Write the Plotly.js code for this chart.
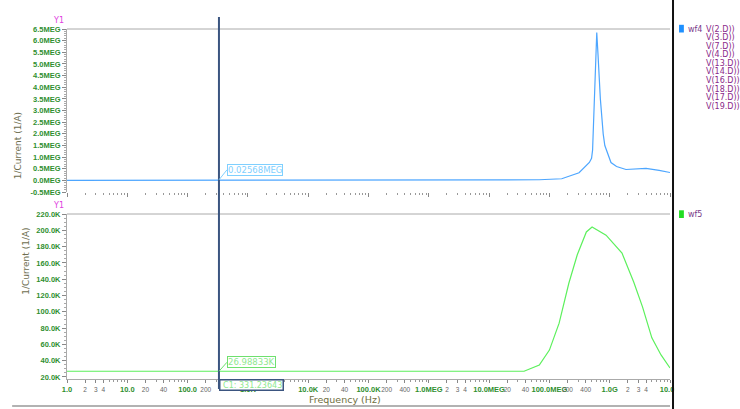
<!DOCTYPE html>
<html><head><meta charset="utf-8">
<script src="https://cdn.plot.ly/plotly-3.0.1.min.js"></script>
<style>html,body{margin:0;padding:0;background:#fff}#c{width:740px;height:409px}</style>
</head><body><div id="c"></div>
<script>
// wf4 (top) : 1/Current in MEG
const freqTop = [1, 1e3, 1e6, 1e7, 3e7, 6.8e7, 1.6e8, 3.1e8, 4.6e8, 5.0e8, 5.2e8, 5.5e8, 5.8e8, 6.1e8, 6.4e8, 7.0e8, 7.8e8, 8.3e8, 1.05e9, 1.3e9, 1.86e9, 4.0e9, 6.6e9, 1e10];
const valTop  = [0, 0, 0, 0.002, 0.01, 0.03, 0.073, 0.33, 0.77, 0.95, 1.3, 3.0, 5.3, 6.35, 5.4, 3.5, 2.0, 1.5, 0.77, 0.6, 0.47, 0.52, 0.43, 0.34];
// wf5 (bottom) : 1/Current in K
const freqBot = [1, 1e3, 1e6, 1e7, 2.8e7, 3.8e7, 6.8e7, 1e8, 1.45e8, 2.1e8, 2.9e8, 4.1e8, 5.1e8, 8.7e8, 1.6e9, 2.5e9, 3.5e9, 5e9, 7.1e9, 1e10];
const valBot  = [26.99, 26.99, 26.99, 26.99, 26.99, 27, 34.7, 53, 86, 135, 170, 198, 204, 194, 172, 136.5, 106, 68, 47, 31];

const cursorFreq = 331.23643;
const markerTop = 0.02568;   // MEG
const markerBot = 26.98833;  // K

const yTopTicks = [-0.5,0,0.5,1,1.5,2,2.5,3,3.5,4,4.5,5,5.5,6,6.5];
const yTopText  = ["-0.5MEG","0.0MEG","0.5MEG","1.0MEG","1.5MEG","2.0MEG","2.5MEG","3.0MEG","3.5MEG","4.0MEG","4.5MEG","5.0MEG","5.5MEG","6.0MEG","6.5MEG"];
const yBotTicks = [20,40,60,80,100,120,140,160,180,200,220];
const yBotText  = ["20.0K","40.0K","60.0K","80.0K","100.0K","120.0K","140.0K","160.0K","180.0K","200.0K","220.0K"];

const xMajorVals = [1,10,100,1e3,1e4,1e5,1e6,1e7,1e8,1e9,1e10];
const xMajorText = ["1.0","10.0","100.0","1.0K","10.0K","100.0K","1.0MEG","10.0MEG","100.0MEG","1.0G","10.0G"];
const xMinorVals = [2,3,4,20,40,200,2e4,4e4,2e5,4e5,2e6,3e6,4e6,2e7,4e7,2e8,4e8,2e9,3e9,4e9];
const xMinorText = ["2","3","4","20","40","200","20","40","200","400","2","3","4","20","40","200","400","2","3","4"];

const legendNames = ["V(2.D))","V(3.D))","V(7.D))","V(4.D))","V(13.D))","V(14.D))","V(16.D))","V(18.D))","V(17.D))","V(19.D))"];

const green = '#2f8f2f';
const tickFont = {family:'Liberation Sans', size:7.5, color:green, weight:'bold'};
const tv = xMajorVals.concat(xMinorVals);
const tt = xMajorText.concat(xMinorText.map(t=>'<span style="color:#666;font-weight:normal;font-size:6.5px">'+t+'</span>'));

const traces = [
 {x:freqTop, y:valTop, xaxis:'x', yaxis:'y', mode:'lines', line:{color:'#4da6ff', width:1.2}, hoverinfo:'skip'},
 {x:freqBot, y:valBot, xaxis:'x2', yaxis:'y2', mode:'lines', line:{color:'#5cf05c', width:1.2}, hoverinfo:'skip'}
];

const xcommon = {type:'log', range:[0,10], showgrid:false, zeroline:false, ticks:'outside', ticklen:4, tickcolor:'#888', tickwidth:1,
  minor:{dtick:'D1', ticks:'outside', ticklen:2, tickcolor:'#999', showgrid:false}};

const ann = [];
const titleFont = {family:'DejaVu Sans', size:9, color:'#6e6e50'};
ann.push({xref:'paper', yref:'paper', x:-0.093, y:0.769, text:'1/Current (1/A)', textangle:-90, showarrow:false, font:titleFont});
ann.push({xref:'paper', yref:'paper', x:-0.081, y:0.234, text:'1/Current (1/A)', textangle:-90, showarrow:false, font:titleFont});
ann.push({xref:'paper', yref:'paper', x:-0.002, y:1.005, text:'Y1', showarrow:false, xanchor:'right', yanchor:'bottom', font:{family:'DejaVu Sans', size:8, color:'#e040e0'}});
ann.push({xref:'paper', yref:'paper', x:-0.002, y:0.476, text:'Y1', showarrow:false, xanchor:'right', yanchor:'bottom', font:{family:'DejaVu Sans', size:8, color:'#e040e0'}});
ann.push({xref:'paper', yref:'paper', x:0.461, y:-0.058, text:'Frequency (Hz)', showarrow:false, yanchor:'middle', font:{family:'DejaVu Sans', size:9.5, color:'#6e6e40'}});
ann.push({xref:'x', yref:'y', x:Math.log10(cursorFreq), y:markerTop, text:'0.02568MEG', showarrow:true, arrowhead:0, arrowwidth:1, arrowcolor:'#7fd0ff', ax:8, ay:-10, xanchor:'left', yanchor:'middle', bordercolor:'#7fd0ff', borderwidth:1, borderpad:0, bgcolor:'#fff', font:{family:'DejaVu Sans', size:8.5, color:'#7fd0ff'}});
ann.push({xref:'x2', yref:'y2', x:Math.log10(cursorFreq), y:markerBot, text:'26.98833K', showarrow:true, arrowhead:0, arrowwidth:1, arrowcolor:'#6ee06e', ax:8, ay:-9, xanchor:'left', yanchor:'middle', bordercolor:'#6ee06e', borderwidth:1, borderpad:0, bgcolor:'#fff', font:{family:'DejaVu Sans', size:8.5, color:'#8fe88f'}});
ann.push({xref:'x2', yref:'paper', x:Math.log10(cursorFreq), y:-0.018, text:' C1: 331.23643', showarrow:false, xanchor:'left', yanchor:'middle', bordercolor:'#3b5580', borderwidth:1.5, borderpad:0, bgcolor:'#fff', font:{family:'DejaVu Sans', size:8, color:'#8fe88f'}});
ann.push({xref:'paper', yref:'paper', x:1.0265, y:1.0, text:'wf4', showarrow:false, xanchor:'left', yanchor:'middle', font:{family:'DejaVu Sans', size:8, color:'#7a3a8a'}});
ann.push({xref:'paper', yref:'paper', x:1.0265, y:0.471, text:'wf5', showarrow:false, xanchor:'left', yanchor:'middle', font:{family:'DejaVu Sans', size:8, color:'#7a3a8a'}});
legendNames.forEach((n,i)=>ann.push({xref:'paper', yref:'paper', x:1.056, y:1.0 - i*0.0245, text:n, showarrow:false, xanchor:'left', yanchor:'middle', font:{family:'DejaVu Sans', size:8, color:'#8a2a8a'}}));

const shapes = [
 {type:'line', xref:'x domain', yref:'y domain', x0:0, x1:1, y0:1, y1:1, line:{color:'#aaa', width:1}},
 {type:'line', xref:'x2 domain', yref:'y2 domain', x0:0, x1:1, y0:1, y1:1, line:{color:'#aaa', width:1}},
 {type:'line', xref:'x2', yref:'paper', x0:cursorFreq, x1:cursorFreq, y0:-0.0286, y1:1.034, line:{color:'#3b5580', width:2}},
 {type:'rect', xref:'paper', yref:'paper', x0:1.007, x1:1.2, y0:-0.09, y1:0.05, fillcolor:'#fff', line:{width:0}, layer:'above'},
 {type:'line', xref:'paper', yref:'paper', x0:1.005, x1:1.005, y0:-0.09, y1:1.09, line:{color:'#111', width:2}},
 {type:'line', xref:'paper', yref:'paper', x0:-0.091, x1:1.0, y0:-0.077, y1:-0.077, line:{color:'#999', width:1.5}},
 {type:'rect', xref:'paper', yref:'paper', x0:1.015, x1:1.023, y0:0.99, y1:1.012, fillcolor:'#1e90ff', line:{width:0}},
 {type:'rect', xref:'paper', yref:'paper', x0:1.015, x1:1.023, y0:0.46, y1:0.482, fillcolor:'#22dd22', line:{width:0}}
];

const layout = {
 width:740, height:409, margin:{l:67, r:70, t:29, b:30}, paper_bgcolor:'#fff', plot_bgcolor:'#fff', showlegend:false,
 xaxis: Object.assign({}, xcommon, {domain:[0,1], anchor:'y', showticklabels:false, showline:false, tickvals:xMajorVals}),
 yaxis: {domain:[0.534,1], anchor:'x', range:[-0.5,6.5], tickvals:yTopTicks, ticktext:yTopText, tickfont:tickFont, showgrid:false, zeroline:false,
   showline:true, linecolor:'#aaa', ticks:'outside', ticklen:4, tickcolor:'#888', minor:{dtick:0.1, ticks:'outside', ticklen:2, tickcolor:'#aaa'}},
 xaxis2: Object.assign({}, xcommon, {domain:[0,1], anchor:'y2', showline:true, linecolor:'#aaa', tickvals:tv, ticktext:tt, tickfont:tickFont, tickangle:0, ticklen:3}),
 yaxis2: {domain:[0,0.4714], anchor:'x2', range:[17.5,220], tickvals:yBotTicks, ticktext:yBotText, tickfont:tickFont, showgrid:false, zeroline:false,
   showline:true, linecolor:'#aaa', ticks:'outside', ticklen:4, tickcolor:'#888', minor:{dtick:5, ticks:'outside', ticklen:2, tickcolor:'#aaa'}},
 annotations: ann, shapes: shapes
};
Plotly.newPlot('c', traces, layout, {staticPlot:true});
</script></body></html>
